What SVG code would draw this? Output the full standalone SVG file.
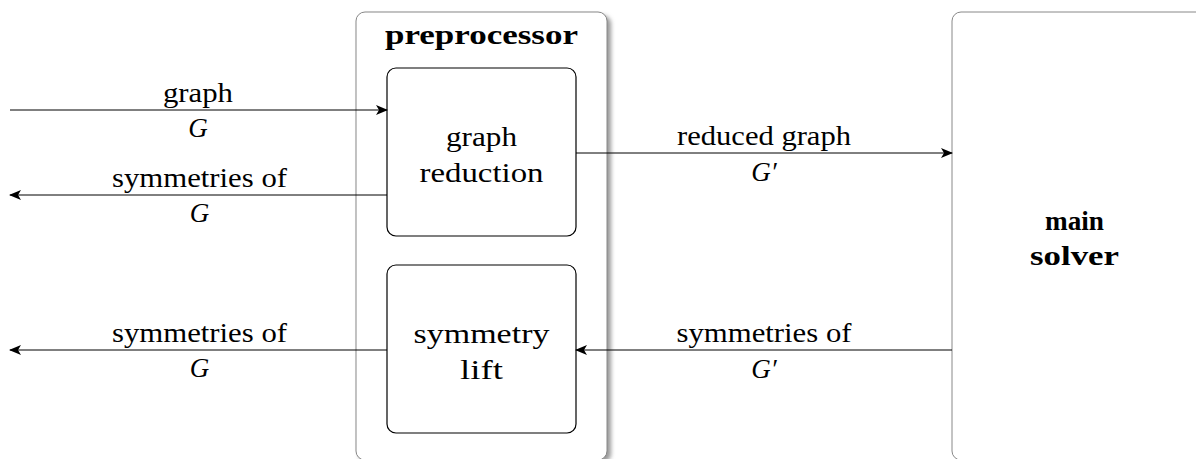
<svg xmlns="http://www.w3.org/2000/svg" width="1196" height="459" viewBox="0 0 1196 459">
<style>
text{font-family:"Liberation Serif","Times New Roman",serif;font-size:27px;fill:#000;text-anchor:middle}
.b{font-weight:bold}
.i{font-style:italic}
.outer{fill:#fff;stroke:#888;stroke-width:1}
.inner{fill:#fff;stroke:#000;stroke-width:1.2}
.ln{stroke:#000;stroke-width:1;fill:none;marker-end:url(#ah)}
</style>
<defs>
<marker id="ah" viewBox="0 0 12 10" refX="11" refY="5" markerWidth="12" markerHeight="10" markerUnits="userSpaceOnUse" orient="auto">
<path d="M0,0 L12,5 L0,10 L3,5 Z" fill="#000"/>
</marker>
<filter id="sh" x="-10%" y="-10%" width="130%" height="130%">
<feGaussianBlur stdDeviation="2"/>
</filter>
</defs>
<g id="preprocessor">
<rect x="359" y="15" width="252" height="448" rx="9" fill="#999" filter="url(#sh)"/>
<rect class="outer" x="356" y="12" width="251" height="448" rx="9"/>
<text class="b" x="481.5" y="44" textLength="193" lengthAdjust="spacingAndGlyphs">preprocessor</text>
</g>
<g id="graph-reduction">
<rect class="inner" x="387" y="68" width="189" height="168" rx="9"/>
<text x="481.5" y="146" textLength="71" lengthAdjust="spacingAndGlyphs">graph</text>
<text x="481.5" y="181.5" textLength="124" lengthAdjust="spacingAndGlyphs">reduction</text>
</g>
<g id="symmetry-lift">
<rect class="inner" x="387" y="265" width="189" height="168" rx="9"/>
<text x="481.5" y="343" textLength="136" lengthAdjust="spacingAndGlyphs">symmetry</text>
<text x="481.5" y="378.5" textLength="43" lengthAdjust="spacingAndGlyphs">lift</text>
</g>
<g id="main-solver">
<rect class="outer" x="952" y="12" width="300" height="448" rx="9"/>
<text class="b" x="1074.5" y="230" textLength="59" lengthAdjust="spacingAndGlyphs">main</text>
<text class="b" x="1074.5" y="265" textLength="89" lengthAdjust="spacingAndGlyphs">solver</text>
</g>
<g id="connectors">
<line class="ln" x1="10" y1="110" x2="387" y2="110"/>
<line class="ln" x1="387" y1="195" x2="10" y2="195"/>
<line class="ln" x1="576" y1="153" x2="952" y2="153"/>
<line class="ln" x1="952" y1="350" x2="576" y2="350"/>
<line class="ln" x1="387" y1="350" x2="10" y2="350"/>
<text x="198" y="102" textLength="70" lengthAdjust="spacingAndGlyphs">graph</text>
<text class="i" x="198" y="137">G</text>
<text x="199.5" y="187" textLength="175" lengthAdjust="spacingAndGlyphs">symmetries of</text>
<text class="i" x="199.5" y="222">G</text>
<text x="764" y="145" textLength="174" lengthAdjust="spacingAndGlyphs">reduced graph</text>
<text class="i" x="764" y="181">G′</text>
<text x="764" y="342" textLength="175" lengthAdjust="spacingAndGlyphs">symmetries of</text>
<text class="i" x="764" y="378">G′</text>
<text x="199.5" y="342" textLength="175" lengthAdjust="spacingAndGlyphs">symmetries of</text>
<text class="i" x="199.5" y="377">G</text>
</g>
</svg>
